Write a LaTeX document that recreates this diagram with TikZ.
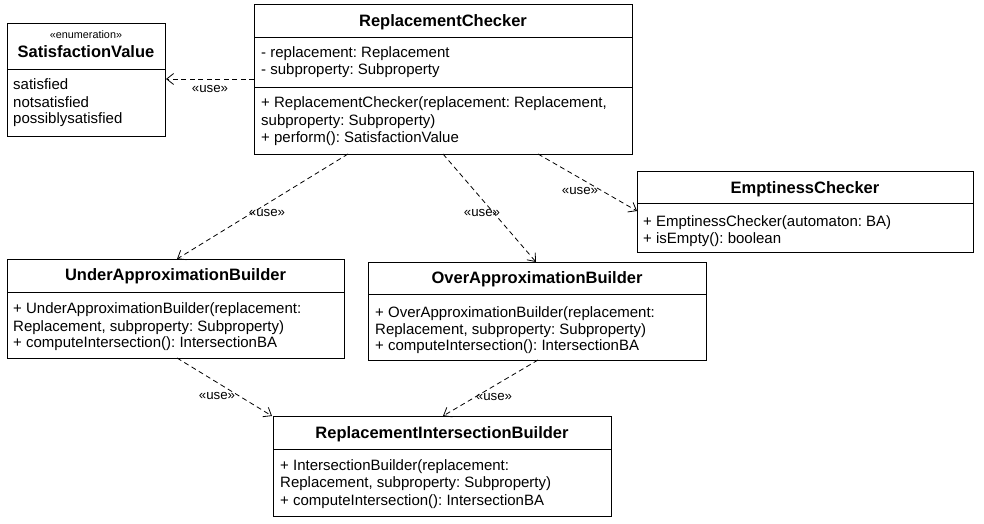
\documentclass[tikz,border=0pt]{standalone}
\usepackage{fontspec}
\setmainfont{Liberation Sans}
\usetikzlibrary{calc,arrows.meta}
\begin{document}
\frenchspacing
\begin{tikzpicture}[x=1pt,y=-1pt,
  box/.style={draw,line width=0.9pt,anchor=north west,inner sep=0pt,outer sep=0pt},
  ttl/.style={anchor=base,inner sep=0pt,font=\fontsize{16.5}{18}\selectfont\bfseries},
  stereo/.style={anchor=base,inner sep=0pt,font=\fontsize{10.8}{12}\selectfont},
  txt/.style={anchor=base west,inner sep=0pt,font=\fontsize{15}{17}\selectfont\frenchspacing},
  divider/.style={line width=0.9pt},
  dep/.style={dash pattern=on 5pt off 3.5pt,line width=0.8pt,-{Straight Barb[length=7pt,width=11pt,line width=0.8pt]}},
  lbl/.style={inner sep=0.5pt,font=\fontsize{13.3}{14}\selectfont}]
\useasboundingbox (0,0) rectangle (984,524);

% ---- SatisfactionValue
\node[box,minimum width=158pt,minimum height=113pt] (sv) at (7,23) {};
\draw[divider] (7,69) -- (165,69);
\node[stereo] (svs) at (86,39) {«enumeration»};
\node[ttl] (svt) at (86,58) {SatisfactionValue};
\node[txt] (sv1) at (13,90) {satisfied};
\node[txt] (sv2) at (13,107) {notsatisfied};
\node[txt] (sv3) at (13,124) {possiblysatisfied};

% ---- ReplacementChecker
\node[box,minimum width=378pt,minimum height=150pt] (rc) at (254,4) {};
\draw[divider] (254,37) -- (632,37);
\draw[divider] (254,87) -- (632,87);
\node[ttl] (rct) at (443,27) {ReplacementChecker};
\node[txt] (rc1) at (261,58) {- replacement: Replacement};
\node[txt] (rc2) at (261,75) {- subproperty: Subproperty};
\node[txt] (rc3) at (261,108) {+ ReplacementChecker(replacement: Replacement,};
\node[txt] (rc4) at (261,125) {subproperty: Subproperty)};
\node[txt] (rc5) at (261,142) {+ perform(): SatisfactionValue};

% ---- EmptinessChecker
\node[box,minimum width=336pt,minimum height=81pt] (ec) at (637,171) {};
\draw[divider] (637,203) -- (973,203);
\node[ttl] (ect) at (805,193) {EmptinessChecker};
\node[txt] (ec1) at (643,226) {+ EmptinessChecker(automaton: BA)};
\node[txt] (ec2) at (643,243) {+ isEmpty(): boolean};

% ---- UnderApproximationBuilder
\node[box,minimum width=337pt,minimum height=99pt] (uab) at (7,259) {};
\draw[divider] (7,292) -- (344,292);
\node[ttl] (uabt) at (175.5,280) {UnderApproximationBuilder};
\node[txt] (uab1) at (13,313) {+ UnderApproximationBuilder(replacement:};
\node[txt] (uab2) at (13,331) {Replacement, subproperty: Subproperty)};
\node[txt] (uab3) at (13,347) {+ computeIntersection(): IntersectionBA};

% ---- OverApproximationBuilder
\node[box,minimum width=338pt,minimum height=98pt] (oab) at (368,262) {};
\draw[divider] (368,294) -- (706,294);
\node[ttl] (oabt) at (537,283) {OverApproximationBuilder};
\node[txt] (oab1) at (375,317) {+ OverApproximationBuilder(replacement:};
\node[txt] (oab2) at (375,334) {Replacement, subproperty: Subproperty)};
\node[txt] (oab3) at (375,350) {+ computeIntersection(): IntersectionBA};

% ---- ReplacementIntersectionBuilder
\node[box,minimum width=338pt,minimum height=100pt] (rib) at (273,416) {};
\draw[divider] (273,449) -- (611,449);
\node[ttl] (ribt) at (442,438) {ReplacementIntersectionBuilder};
\node[txt] (rib1) at (280,470) {+ IntersectionBuilder(replacement:};
\node[txt] (rib2) at (280,487) {Replacement, subproperty: Subproperty)};
\node[txt] (rib3) at (280,505) {+ computeIntersection(): IntersectionBA};

% ---- dependencies
\draw[dep] ($(rc.north west)+(0,75)$) -- ($(sv.north east)+(1,56)$);
\draw[dep] ($(rc.south west)+(94,0)$) -- ($(uab.north west)+(170,0)$);
\draw[dep] ($(rc.south west)+(189,0)$) -- ($(oab.north west)+(168,0)$);
\draw[dep] ($(rc.south west)+(284,0)$) -- ($(ec.north west)+(0,40)$);
\draw[dep] ($(uab.south west)+(170,0)$) -- ($(rib.north west)+(-1,0)$);
\draw[dep] ($(oab.south west)+(170,0)$) -- ($(rib.north west)+(170,0)$);

\node[lbl] (l1) at (210,89) {«use»};
\node[lbl] (l2) at (267,213) {«use»};
\node[lbl] (l3) at (482,213) {«use»};
\node[lbl] (l4) at (580,191) {«use»};
\node[lbl] (l5) at (217,396) {«use»};
\node[lbl] (l6) at (494,397) {«use»};
\end{tikzpicture}
\end{document}
